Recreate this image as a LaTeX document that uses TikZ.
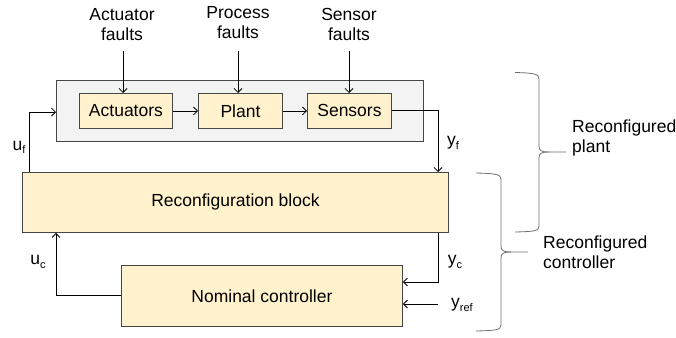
\documentclass[tikz,border=0pt]{standalone}
\usepackage{fontspec}
\setmainfont{Liberation Sans}
\usetikzlibrary{arrows.meta}
\definecolor{edge}{HTML}{454545}
\definecolor{blockfill}{HTML}{FFF2CC}
\definecolor{groupfill}{HTML}{F3F3F3}
\definecolor{bracegray}{HTML}{6E6E6E}
\newcommand{\lowidx}[1]{\raisebox{-0.35ex}{\fontsize{11}{11}\selectfont #1}}
\tikzset{
  x=1pt, y=-1pt,
  every node/.style={font=\fontsize{17.5}{20}\selectfont, inner sep=0pt},
  block/.style={draw=edge, line width=0.9pt, fill=blockfill, anchor=north west},
  group/.style={draw=edge, line width=0.9pt, fill=groupfill, anchor=north west},
  sig/.style={draw=black, line width=0.8pt, -{Straight Barb[length=4pt,width=8pt]}},
  label/.style={align=center, text=black},
  bracestyle/.style={draw=bracegray, line width=0.8pt}
}
\begin{document}
\begin{tikzpicture}
\useasboundingbox (0,0) rectangle (676,337);

% outer plant group
\node[group, minimum width=367pt, minimum height=61pt] (grp) at (56,80) {};

% plant chain
\node[block, minimum width=93pt, minimum height=35pt] (act) at (79,93) {};
\node at (act.center) {Actuators};
\node[block, minimum width=84pt, minimum height=35pt] (plant) at (198,93) {};
\node at (plant.center) {Plant};
\node[block, minimum width=84pt, minimum height=35pt] (sens) at (307,93) {};
\node at (sens.center) {Sensors};

% fault labels
\node[label] (fa) at (122,25) {Actuator\\faults};
\node[label] (fp) at (238,23) {Process\\faults};
\node[label] (fs) at (349,24) {Sensor\\faults};
\coordinate (fa0) at (123,51);
\coordinate (fp0) at (238,51);
\coordinate (fs0) at (349,51);
\draw[sig] (fa0) -- (act.north -| fa0);
\draw[sig] (fp0) -- (plant.north -| fp0);
\draw[sig] (fs0) -- (sens.north -| fs0);

\draw[sig] (act.east) -- (plant.west);
\draw[sig] (plant.east) -- (sens.west);

% reconfiguration and nominal controller
\node[block, minimum width=426pt, minimum height=60pt] (rec) at (22,172) {};
\node at (rec.center) {Reconfiguration block};
\node[block, minimum width=281pt, minimum height=61pt] (nom) at (121,265) {};
\node at (nom.center) {Nominal controller};

% loop connections
\coordinate (ufx) at (29,172);
\draw[sig] (ufx) |- (grp.west |- 0,112);
\coordinate (yfx) at (438,110);
\draw[sig] (sens.east |- yfx) -| (rec.north -| yfx);
\coordinate (ucx) at (56,295);
\draw[sig] (nom.west |- ucx) -| (rec.south -| ucx);
\coordinate (ycx) at (438,282);
\draw[sig] (rec.south -| ycx) |- (nom.east |- ycx);
\coordinate (yrx) at (438,304);
\draw[sig] (yrx) -- (nom.east |- yrx);

% signal labels
\node (uf) at (19,147) {u\lowidx{f}};
\node (yf) at (453,143) {y\lowidx{f}};
\node (uc) at (38,262) {u\lowidx{c}};
\node (yc) at (455,262) {y\lowidx{c}};
\node (yr) at (462,305) {y\lowidx{ref}};

% curly braces with straight spines
\draw[bracestyle] (515,72.5) .. controls (535,73) and (539,74) .. (539,79)
  -- (539,146) .. controls (539,150.5) and (541,152) .. (549,152) -- (566,152);
\draw[bracestyle] (549,152) .. controls (541,152) and (539,153.5) .. (539,158)
  -- (539,226) .. controls (539,231) and (535,231.5) .. (515,232);
\node[label, anchor=west, align=left] (rp) at (572,138) {Reconfigured\\plant};

\draw[bracestyle] (476,173) .. controls (496,173.5) and (501,174.5) .. (501,179)
  -- (501,246) .. controls (501,250.5) and (503,252) .. (511,252) -- (528,252);
\draw[bracestyle] (511,252) .. controls (503,252) and (501,253.5) .. (501,258)
  -- (501,325) .. controls (501,330) and (496,330.5) .. (476,331);
\node[label, anchor=west, align=left] (rc) at (543,252) {Reconfigured\\controller};
\end{tikzpicture}
\end{document}
